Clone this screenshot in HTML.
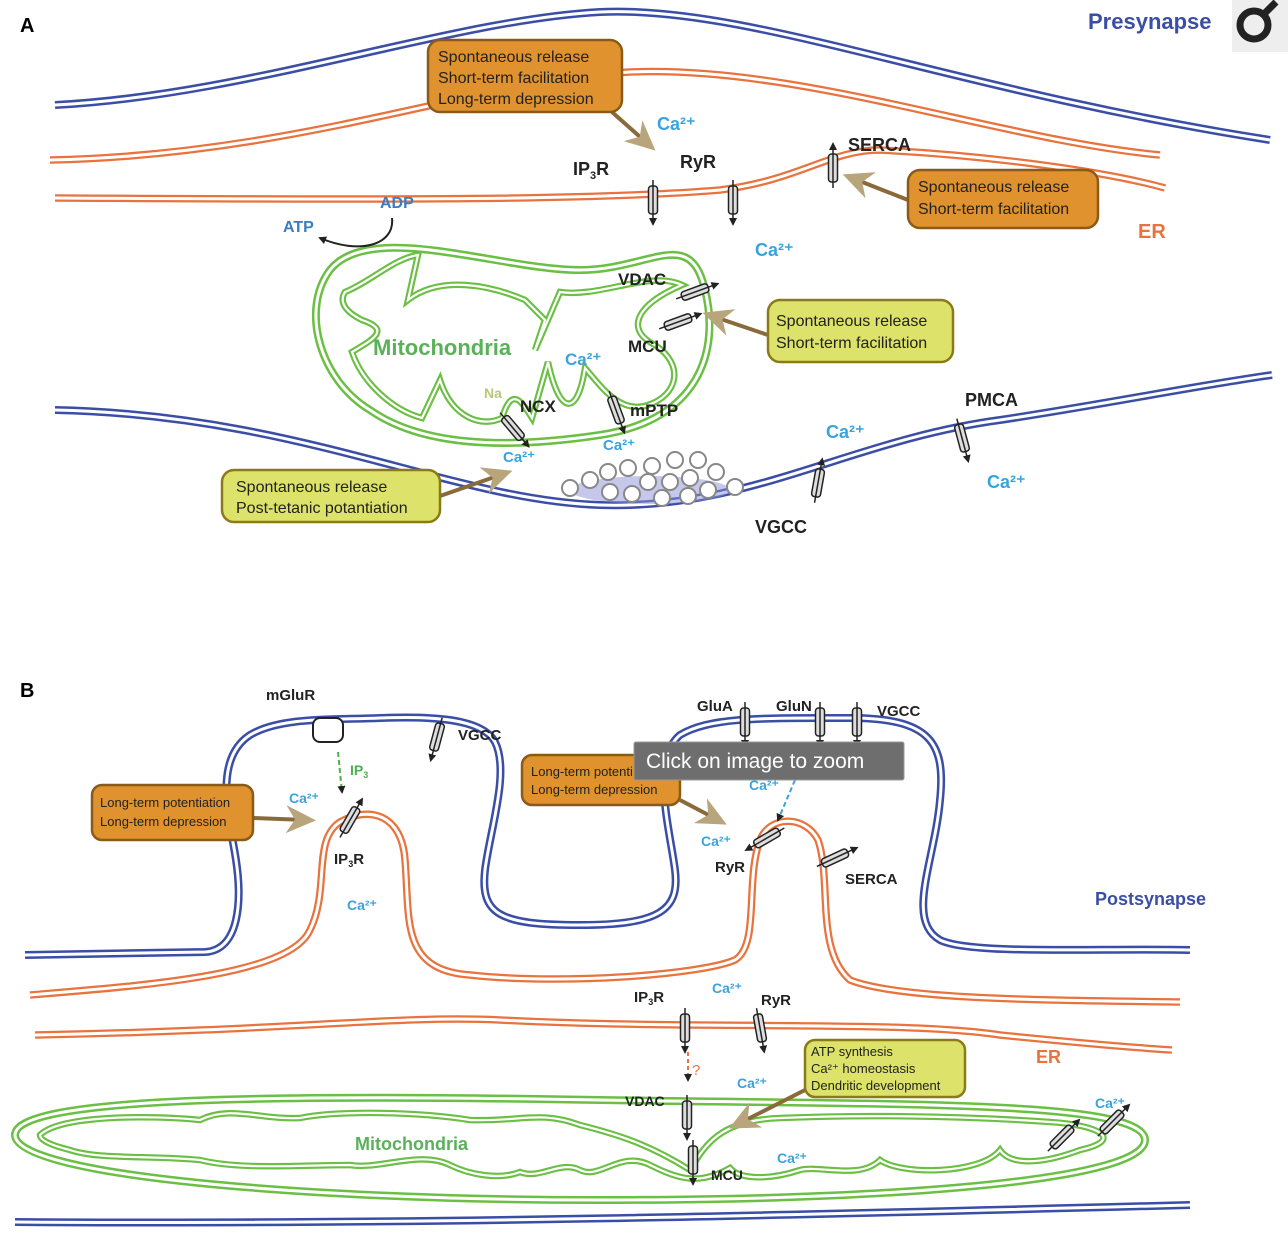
<!DOCTYPE html>
<html><head><meta charset="utf-8"><style>
html,body{margin:0;padding:0;background:#fff;}
svg{display:block;font-family:"Liberation Sans",sans-serif;}
.b{fill:none;stroke:#3b4ea6;stroke-width:8;}
.o{fill:none;stroke:#e8733e;stroke-width:7.5;}
.g{fill:none;stroke:#6cbf45;stroke-width:8;}
.g2{fill:none;stroke:#6cbf45;stroke-width:6.5;}
.w{fill:none;stroke:#fff;stroke-width:3;}
.ww{fill:none;stroke:#fff;stroke-width:2.2;}
.lbl{font-weight:bold;fill:#222;}
.ca{fill:#3aa3dc;font-weight:bold;}
.box1{fill:#e0922e;stroke:#8a5a18;stroke-width:2.5;}
.box2{fill:#dde26a;stroke:#8a7a18;stroke-width:2.5;}
.bt{font-size:16px;fill:#222;}
.ch{fill:#ddd;stroke:#222;stroke-width:1.5;}
</style></head><body>
<svg width="1288" height="1254" viewBox="0 0 1288 1254">
<defs>
<marker id="ah" markerUnits="userSpaceOnUse" markerWidth="8" markerHeight="8" refX="6" refY="4" orient="auto"><path d="M0,0 L8,4 L0,8z" fill="#222"/></marker>
<marker id="tan" markerUnits="userSpaceOnUse" markerWidth="30" markerHeight="28" refX="20" refY="14" orient="auto"><path d="M0,0 L30,14 L0,28 L9,14z" fill="#b9a57c"/></marker>
<g id="chan"><rect x="-4.5" y="-14" width="9" height="28" rx="3" class="ch"/><line x1="0" y1="-20" x2="0" y2="24" stroke="#222" stroke-width="1.5" marker-end="url(#ah)"/></g>
<path id="pm1" d="M55,105 C250,95 450,20 600,12 C750,5 950,90 1270,140"/>
<path id="er1" d="M50,160 C300,155 480,80 630,72 C800,65 1000,140 1160,155"/>
<path id="er2" d="M55,198 C400,200 600,200 720,190 C800,180 830,150 880,150 C980,155 1100,170 1165,188"/>
<path id="pm2" d="M55,410 C300,415 450,500 600,505 C750,510 850,440 1000,420 C1100,405 1200,385 1272,375"/>
<path id="ma" d="M330,270 C370,220 500,270 580,270 C650,270 690,225 705,290 C720,350 700,420 600,435 C500,450 420,445 370,410 C320,380 300,310 330,270Z"/>
<path id="mc" d="M345,292 C370,282 395,258 418,255 L408,300 C440,275 490,285 525,300 L545,320 L535,350 L560,292 C600,298 650,270 682,285 C635,305 625,330 655,345 C685,365 678,395 648,405 C620,415 600,385 585,368 C578,415 560,418 548,362 L532,418 C522,402 512,385 502,418 C482,428 452,418 440,380 L422,418 C392,410 362,382 352,352 C372,340 392,330 362,320 C342,310 340,300 345,292Z"/>
<path id="pb" d="M25,955 L205,952 C240,950 242,900 236,860 C230,820 212,760 250,735 C280,717 330,720 380,718 C430,716 482,718 495,742 C510,772 490,830 485,870 C480,915 500,925 580,925 C660,925 680,910 675,870 C670,830 650,760 680,735 C710,717 760,718 850,718 C930,718 946,742 940,800 C935,860 905,920 940,940 C970,955 1100,948 1190,950"/>
<path id="eb1" d="M30,995 C150,985 290,975 310,930 C330,890 312,840 340,822 C370,805 402,815 405,860 C410,920 400,970 470,975 C560,985 700,975 735,960 C760,945 745,880 760,840 C770,815 805,815 818,840 C832,880 815,950 850,980 C900,1000 1050,1000 1180,1002"/>
<path id="eb2" d="M35,1035 C300,1030 400,1015 500,1020 C700,1030 900,1020 1000,1035 C1100,1045 1140,1048 1172,1050"/>
<path id="mb" d="M15,1135 C15,1095 300,1095 600,1100 C900,1105 1145,1100 1145,1140 C1145,1180 900,1200 600,1200 C300,1200 15,1175 15,1135Z"/>
<path id="mbc" d="M40,1135 C60,1115 150,1115 200,1120 C230,1105 260,1120 300,1118 C340,1110 420,1112 470,1120 C520,1122 540,1110 580,1125 C620,1135 650,1145 690,1170 C705,1145 720,1120 780,1118 C850,1115 950,1115 1050,1122 C1100,1125 1125,1140 1080,1150 C1040,1165 1010,1165 1000,1150 C980,1175 900,1175 880,1160 C860,1180 820,1165 800,1170 C770,1180 740,1180 730,1168 C700,1185 680,1180 650,1165 C620,1150 600,1180 580,1170 C560,1160 540,1180 520,1172 C500,1180 470,1175 450,1165 C420,1150 380,1170 350,1165 C300,1165 240,1170 200,1160 C150,1155 100,1160 70,1150 C50,1145 40,1140 40,1135Z"/>
<path id="bb" d="M15,1222 C400,1225 800,1215 1190,1205"/>
</defs>
<text x="20" y="32" font-size="20" font-weight="bold">A</text>
<text x="20" y="697" font-size="20" font-weight="bold">B</text>
<text x="1088" y="29" font-size="22" font-weight="bold" fill="#3b4ea6">Presynapse</text>
<rect x="1232" y="0" width="56" height="52" fill="#eee"/>
<circle cx="1254" cy="25" r="14" fill="none" stroke="#222" stroke-width="7"/>
<line x1="1264" y1="14" x2="1276" y2="2" stroke="#222" stroke-width="7"/>

<use href="#pm1" class="b"/><use href="#pm1" class="w"/>
<use href="#er1" class="o"/><use href="#er1" class="w"/>
<use href="#er2" class="o"/><use href="#er2" class="w"/>
<use href="#pm2" class="b"/><use href="#pm2" class="w"/>

<ellipse cx="650" cy="490" rx="80" ry="14" fill="#8c8fd8" opacity="0.5"/>
<g fill="#fff" stroke="#888" stroke-width="2">
<circle cx="570" cy="488" r="8"/><circle cx="590" cy="480" r="8"/><circle cx="608" cy="472" r="8"/><circle cx="628" cy="468" r="8"/><circle cx="652" cy="466" r="8"/><circle cx="675" cy="460" r="8"/><circle cx="698" cy="460" r="8"/><circle cx="716" cy="472" r="8"/><circle cx="735" cy="487" r="8"/><circle cx="610" cy="492" r="8"/><circle cx="632" cy="494" r="8"/><circle cx="648" cy="482" r="8"/><circle cx="670" cy="482" r="8"/><circle cx="690" cy="478" r="8"/><circle cx="708" cy="490" r="8"/><circle cx="662" cy="498" r="8"/><circle cx="688" cy="496" r="8"/></g>

<use href="#ma" class="g"/><use href="#ma" class="w"/>
<use href="#mc" class="g2"/><use href="#mc" class="ww"/>
<path d="M392,218 C395,245 360,255 320,238" fill="none" stroke="#222" stroke-width="2" marker-end="url(#ah)"/>
<text x="380" y="208" font-weight="bold" font-size="16" fill="#3a7cc0">ADP</text>
<text x="283" y="232" font-weight="bold" font-size="16" fill="#3a7cc0">ATP</text>
<text x="373" y="355" font-size="22" font-weight="bold" fill="#5ab15a">Mitochondria</text>
<text x="565" y="365" class="ca" font-size="17">Ca²⁺</text>
<text x="618" y="285" class="lbl" font-size="17">VDAC</text>
<text x="628" y="352" class="lbl" font-size="17">MCU</text>
<text x="520" y="412" class="lbl" font-size="17">NCX</text>
<text x="630" y="416" class="lbl" font-size="17">mPTP</text>
<text x="484" y="398" font-size="14" font-weight="bold" fill="#b7c87a">Na</text>
<text x="503" y="462" class="ca" font-size="15">Ca²⁺</text>
<text x="603" y="450" class="ca" font-size="15">Ca²⁺</text>
<g transform="translate(695,292) rotate(-110)"><use href="#chan"/></g>
<g transform="translate(678,322) rotate(-110)"><use href="#chan"/></g>
<g transform="translate(513,428) rotate(-40)"><use href="#chan"/></g>
<g transform="translate(616,410) rotate(-20)"><use href="#chan"/></g>

<g transform="translate(653,200)"><use href="#chan"/></g>
<g transform="translate(733,200)"><use href="#chan"/></g>
<g transform="translate(833,168) rotate(180)"><use href="#chan"/></g>
<g transform="translate(818,483) rotate(190)"><use href="#chan"/></g>
<g transform="translate(962,438) rotate(-15)"><use href="#chan"/></g>
<text x="573" y="175" class="lbl" font-size="18">IP<tspan font-size="11" dy="4">3</tspan><tspan dy="-4">R</tspan></text>
<text x="680" y="168" class="lbl" font-size="18">RyR</text>
<text x="848" y="151" class="lbl" font-size="18">SERCA</text>
<text x="965" y="406" class="lbl" font-size="18">PMCA</text>
<text x="755" y="533" class="lbl" font-size="18">VGCC</text>
<text x="1138" y="238" font-size="20" font-weight="bold" fill="#e8733e">ER</text>
<text x="657" y="130" class="ca" font-size="18">Ca²⁺</text>
<text x="755" y="256" class="ca" font-size="18">Ca²⁺</text>
<text x="826" y="438" class="ca" font-size="18">Ca²⁺</text>
<text x="987" y="488" class="ca" font-size="18">Ca²⁺</text>

<line x1="612" y1="112" x2="648" y2="144" stroke="#8a6a3a" stroke-width="4" marker-end="url(#tan)"/>
<rect x="428" y="40" width="194" height="72" rx="12" class="box1"/>
<text class="bt" x="438" y="62">Spontaneous release</text><text class="bt" x="438" y="83">Short-term facilitation</text><text class="bt" x="438" y="104">Long-term depression</text>
<line x1="908" y1="200" x2="852" y2="178" stroke="#8a6a3a" stroke-width="4" marker-end="url(#tan)"/>
<rect x="908" y="170" width="190" height="58" rx="12" class="box1"/>
<text class="bt" x="918" y="192">Spontaneous release</text><text class="bt" x="918" y="214">Short-term facilitation</text>
<line x1="768" y1="335" x2="712" y2="316" stroke="#8a6a3a" stroke-width="4" marker-end="url(#tan)"/>
<rect x="768" y="300" width="185" height="62" rx="12" class="box2"/>
<text class="bt" x="776" y="326">Spontaneous release</text><text class="bt" x="776" y="348">Short-term facilitation</text>
<line x1="440" y1="496" x2="503" y2="474" stroke="#8a6a3a" stroke-width="4" marker-end="url(#tan)"/>
<rect x="222" y="470" width="218" height="52" rx="12" class="box2"/>
<text class="bt" x="236" y="492">Spontaneous release</text><text class="bt" x="236" y="513">Post-tetanic potantiation</text>

<use href="#pb" class="b"/><use href="#pb" class="w"/>
<use href="#eb1" class="o"/><use href="#eb1" class="w"/>
<use href="#eb2" class="o"/><use href="#eb2" class="w"/>
<use href="#mb" class="g"/><use href="#mb" class="w"/>
<use href="#mbc" class="g2"/><use href="#mbc" class="ww"/>
<use href="#bb" class="b"/><use href="#bb" class="w"/>

<rect x="313" y="718" width="30" height="24" rx="7" fill="#fff" stroke="#222" stroke-width="2"/>
<line x1="338" y1="752" x2="342" y2="792" stroke="#4caf50" stroke-width="2" stroke-dasharray="5,3" marker-end="url(#ah)"/>
<text x="350" y="775" font-size="14" font-weight="bold" fill="#4caf50">IP<tspan font-size="9" dy="3">3</tspan></text>
<line x1="795" y1="780" x2="778" y2="820" stroke="#3aa3dc" stroke-width="2" stroke-dasharray="5,3" marker-end="url(#ah)"/>
<line x1="688" y1="1052" x2="688" y2="1080" stroke="#e8733e" stroke-width="2" stroke-dasharray="4,3" marker-end="url(#ah)"/>
<text x="692" y="1075" font-size="15" fill="#e8733e">?</text>

<g transform="translate(437,737) rotate(15)"><use href="#chan"/></g>
<g transform="translate(745,722)"><use href="#chan"/></g>
<g transform="translate(820,722)"><use href="#chan"/></g>
<g transform="translate(857,722)"><use href="#chan"/></g>
<g transform="translate(350,820) rotate(210)"><use href="#chan"/></g>
<g transform="translate(767,838) rotate(60)"><use href="#chan"/></g>
<g transform="translate(835,858) rotate(245)"><use href="#chan"/></g>
<g transform="translate(685,1028)"><use href="#chan"/></g>
<g transform="translate(760,1028) rotate(-10)"><use href="#chan"/></g>
<g transform="translate(687,1115)"><use href="#chan"/></g>
<g transform="translate(693,1160)"><use href="#chan"/></g>
<g transform="translate(1062,1137) rotate(225)"><use href="#chan"/></g>
<g transform="translate(1112,1122) rotate(225)"><use href="#chan"/></g>

<text x="266" y="700" class="lbl" font-size="15">mGluR</text>
<text x="458" y="740" class="lbl" font-size="15">VGCC</text>
<text x="697" y="711" class="lbl" font-size="15">GluA</text>
<text x="776" y="711" class="lbl" font-size="15">GluN</text>
<text x="877" y="716" class="lbl" font-size="15">VGCC</text>
<text x="334" y="864" class="lbl" font-size="15">IP<tspan font-size="9" dy="3">3</tspan><tspan dy="-3">R</tspan></text>
<text x="715" y="872" class="lbl" font-size="15">RyR</text>
<text x="845" y="884" class="lbl" font-size="15">SERCA</text>
<text x="634" y="1002" class="lbl" font-size="15">IP<tspan font-size="9" dy="3">3</tspan><tspan dy="-3">R</tspan></text>
<text x="761" y="1005" class="lbl" font-size="15">RyR</text>
<text x="625" y="1106" class="lbl" font-size="14">VDAC</text>
<text x="711" y="1180" class="lbl" font-size="14">MCU</text>
<text x="1095" y="905" font-size="18" font-weight="bold" fill="#3b4ea6">Postsynapse</text>
<text x="1036" y="1063" font-size="18" font-weight="bold" fill="#e8733e">ER</text>
<text x="355" y="1150" font-size="18" font-weight="bold" fill="#5ab15a">Mitochondria</text>
<g class="ca" font-size="14"><text x="289" y="803">Ca²⁺</text><text x="347" y="910">Ca²⁺</text><text x="701" y="846">Ca²⁺</text><text x="749" y="790">Ca²⁺</text><text x="712" y="993">Ca²⁺</text><text x="737" y="1088">Ca²⁺</text><text x="777" y="1163">Ca²⁺</text><text x="1095" y="1108">Ca²⁺</text></g>

<line x1="253" y1="818" x2="306" y2="820" stroke="#8a6a3a" stroke-width="4" marker-end="url(#tan)"/>
<rect x="92" y="785" width="161" height="55" rx="10" class="box1"/>
<text x="100" y="807" font-size="13" fill="#222">Long-term potentiation</text><text x="100" y="826" font-size="13" fill="#222">Long-term depression</text>
<line x1="680" y1="800" x2="718" y2="820" stroke="#8a6a3a" stroke-width="4" marker-end="url(#tan)"/>
<rect x="522" y="755" width="158" height="50" rx="10" class="box1"/>
<text x="531" y="776" font-size="13" fill="#222">Long-term potentiation</text><text x="531" y="794" font-size="13" fill="#222">Long-term depression</text>
<line x1="805" y1="1090" x2="738" y2="1124" stroke="#8a6a3a" stroke-width="4" marker-end="url(#tan)"/>
<rect x="805" y="1040" width="160" height="57" rx="10" class="box2"/>
<text x="811" y="1056" font-size="13" fill="#222">ATP synthesis</text><text x="811" y="1073" font-size="13" fill="#222">Ca²⁺ homeostasis</text><text x="811" y="1090" font-size="13" fill="#222">Dendritic development</text>
<rect x="634" y="742" width="270" height="38" rx="2" fill="#6e6e6e" stroke="#999"/>
<text x="646" y="768" font-size="21" fill="#fff">Click on image to zoom</text>
</svg>
</body></html>
